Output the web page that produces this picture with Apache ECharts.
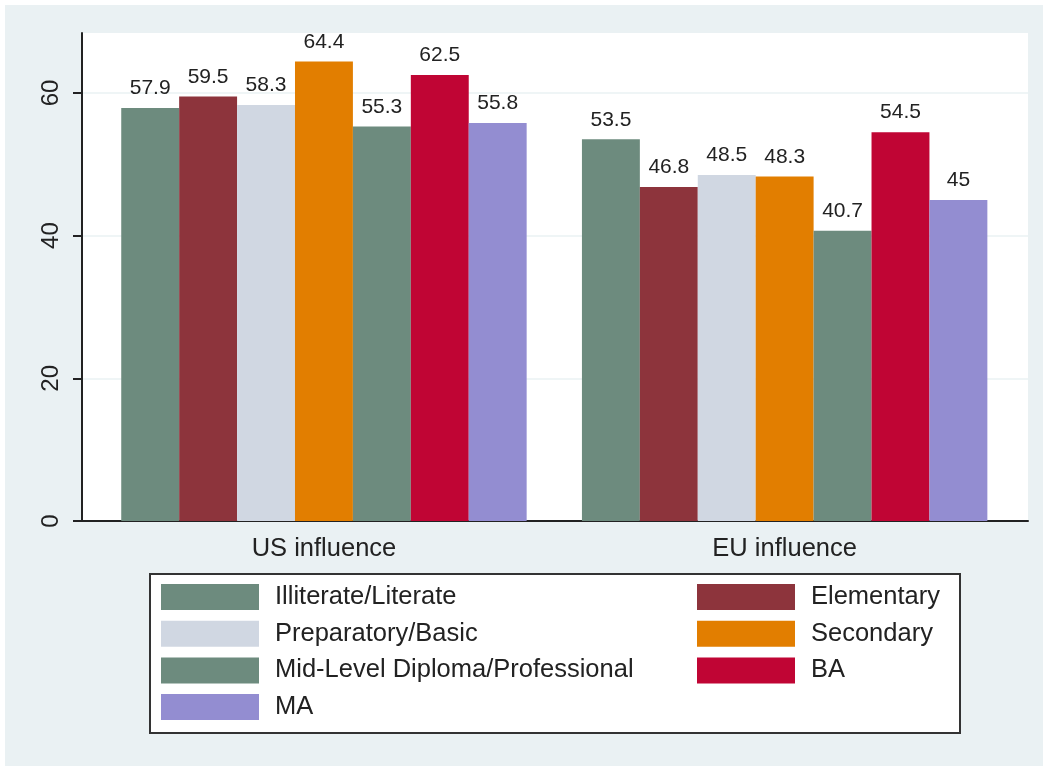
<!DOCTYPE html>
<html>
<head>
<meta charset="utf-8">
<script src="https://cdn.jsdelivr.net/npm/echarts@6/dist/echarts.min.js"></script>
<style>
	html, body { margin: 0; padding: 0; background: #fff; }
	#main { position: absolute; left: 5px; top: 5px; width: 1038px; height: 761px; }
</style>
</head>
<body>
<div id="main"></div>
<script>
	var categories = ['US influence', 'EU influence'];
	var seriesNames = ['Illiterate/Literate', 'Elementary', 'Preparatory/Basic', 'Secondary',
		'Mid-Level Diploma/Professional', 'BA', 'MA'];
	var seriesColors = ['#6d8b7e', '#8d343c', '#d0d7e2', '#e27e00', '#6d8b7e', '#c00534', '#938dd1'];
	var values = [
		[57.9, 53.5],
		[59.5, 46.8],
		[58.3, 48.5],
		[64.4, 48.3],
		[55.3, 40.7],
		[62.5, 54.5],
		[55.8, 45]
	];
	var yTicks = [0, 20, 40, 60];
	var legendLeft = ['Illiterate/Literate', 'Preparatory/Basic', 'Mid-Level Diploma/Professional', 'MA'];
	var legendRight = ['Elementary', 'Secondary', 'BA'];

	var font = '"Liberation Sans", Arial, sans-serif';
	var ink = '#222';

	var series = seriesNames.map(function (name, i) {
		return {
			name: name,
			type: 'bar',
			xAxisIndex: 1,
			yAxisIndex: 1,
			barGap: 0,
			barCategoryGap: '12%',
			data: values[i],
			itemStyle: { color: seriesColors[i] },
			label: {
				show: true,
				position: 'top',
				distance: 9,
				fontFamily: font,
				fontSize: 21,
				color: ink
			}
		};
	});

	function legendOf(names, left) {
		return {
			data: names,
			orient: 'vertical',
			left: left,
			top: 579,
			padding: 0,
			itemWidth: 98,
			itemHeight: 26,
			itemGap: 10.7,
			icon: 'rect',
			selectedMode: false,
			textStyle: {
				fontFamily: font,
				fontSize: 25.5,
				color: ink,
				padding: [0, 0, 0, 11]
			}
		};
	}

	var option = {
		backgroundColor: '#eaf1f3',
		animation: false,
		grid: [
			{ left: 77, right: 15, top: 28, bottom: 245, show: true, backgroundColor: '#fff', borderWidth: 0 },
			{ left: 88.6, right: 28, top: 28, bottom: 245 }
		],
		xAxis: [
			{
				gridIndex: 0,
				type: 'value',
				min: 0,
				max: 1,
				axisLine: { show: true, lineStyle: { color: ink, width: 2 } },
				axisTick: { show: false },
				axisLabel: { show: false },
				splitLine: { show: false }
			},
			{
				gridIndex: 1,
				type: 'category',
				data: categories,
				axisLine: { show: false },
				axisTick: { show: false },
				axisLabel: { fontFamily: font, fontSize: 25.5, color: ink, margin: 15 }
			}
		],
		yAxis: [
			{
				gridIndex: 0,
				type: 'value',
				min: 0,
				max: 68.4,
				interval: 20,
				axisLine: { show: true, lineStyle: { color: ink, width: 2 } },
				axisTick: { show: true, length: 9, customValues: yTicks, lineStyle: { color: ink, width: 2 } },
				axisLabel: {
					customValues: yTicks,
					rotate: 90,
					margin: 19,
					fontFamily: font,
					fontSize: 24,
					color: ink
				},
				splitLine: { show: true, lineStyle: { color: '#eaf2f3', width: 1.5 } }
			},
			{
				gridIndex: 1,
				type: 'value',
				min: 0,
				max: 68.4,
				show: false
			}
		],
		legend: [legendOf(legendLeft, 156), legendOf(legendRight, 692)],
		graphic: [{
			type: 'rect',
			left: 144,
			top: 568,
			z: 1,
			shape: { width: 810, height: 159 },
			style: { fill: '#fff', stroke: '#333', lineWidth: 2 }
		}],
		series: series
	};

	var myChart = echarts.init(document.getElementById('main'));
	myChart.setOption(option);
</script>
</body>
</html>
